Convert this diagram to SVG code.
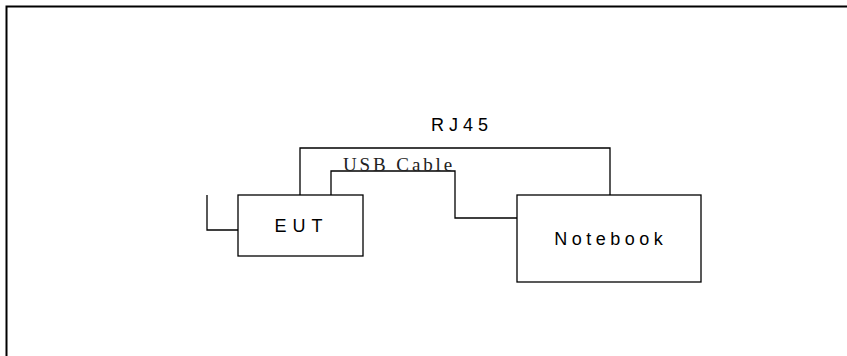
<svg xmlns="http://www.w3.org/2000/svg" width="847" height="356" viewBox="0 0 847 356">
<style>
.ln{fill:none;stroke:#000;stroke-width:1.3}
.box{fill:#fff;stroke:#000;stroke-width:1.3}
.lab{font-family:"Liberation Sans",Arial,sans-serif;font-size:18px;fill:#000}
.ser{font-family:"Liberation Serif","Times New Roman",serif;font-size:19px;fill:#222}
</style>
<rect width="847" height="356" fill="#fff"/>
<g id="frame"><path d="M6.5 356 V6.5 H847" fill="none" stroke="#000" stroke-width="2"/></g>
<g id="connectors">
<path class="ln" d="M207 195 V230 H238"/>
<path class="ln" d="M300 195 V148 H610 V195"/>
<path class="ln" d="M331 195 V171 H455 V218 H517"/>
</g>
<g id="eut">
<rect class="box" x="238" y="195" width="125" height="61"/>
<text class="lab" x="301.5" y="232" text-anchor="middle" letter-spacing="6">EUT</text>
</g>
<g id="notebook">
<rect class="box" x="517" y="195" width="184" height="87"/>
<text class="lab" x="610.8" y="245" text-anchor="middle" letter-spacing="4.5">Notebook</text>
</g>
<text class="lab" x="462" y="131" text-anchor="middle" letter-spacing="5">RJ45</text>
<text class="ser" x="343" y="171" letter-spacing="2.9">USB Cable</text>
</svg>
